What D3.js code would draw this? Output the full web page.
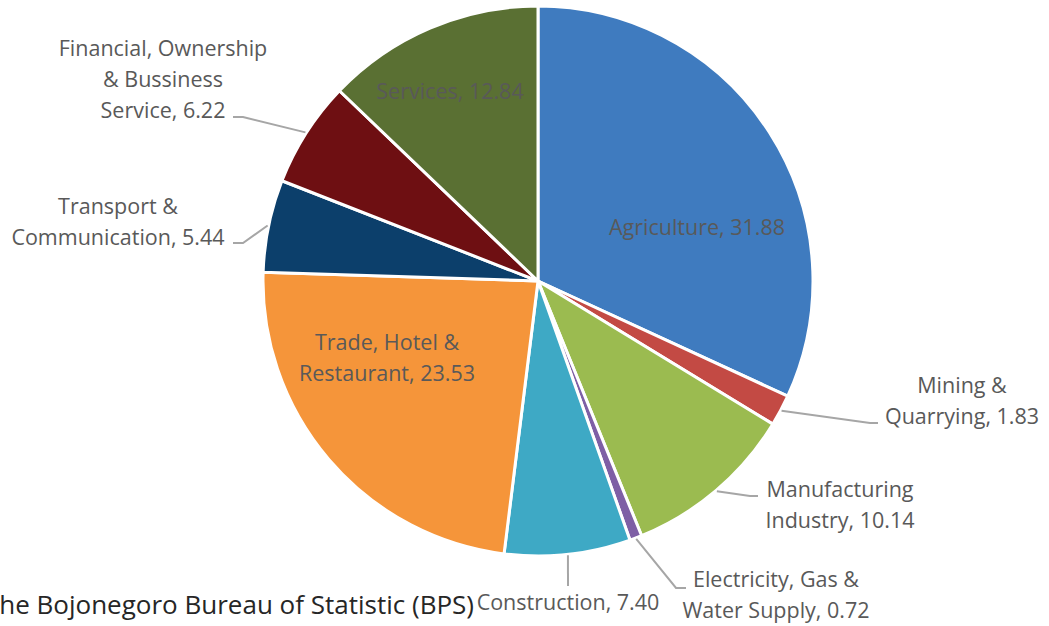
<!DOCTYPE html>
<html>
<head>
<meta charset="utf-8">
<script src="https://cdn.jsdelivr.net/npm/d3@7"></script>
<style>
  html, body { margin: 0; padding: 0; background: #fff; overflow: hidden; }
  text { font-family: "Open Sans", "Noto Sans", sans-serif; }
</style>
</head>
<body>
<script>
let width = 1049;
let height = 626;

// data (share of GRDP, %)
let sectors = ['Agriculture', 'Mining & Quarrying', 'Manufacturing Industry',
  'Electricity, Gas & Water Supply', 'Construction', 'Trade, Hotel & Restaurant',
  'Transport & Communication', 'Financial, Ownership & Bussiness Service', 'Services'];
let shares = [31.88, 1.83, 10.14, 0.72, 7.40, 23.53, 5.44, 6.22, 12.84];
let sliceColors = ['#3f7bbf', '#c34a44', '#9bbb50', '#7e5fa5', '#3ea9c5',
  '#f5953a', '#0c3f6b', '#6e0f12', '#5a7033'];

// how each label is broken into lines
let labelLines = [
  ['Agriculture, 31.88'],
  ['Mining &', 'Quarrying, 1.83'],
  ['Manufacturing', 'Industry, 10.14'],
  ['Electricity, Gas &', 'Water Supply, 0.72'],
  ['Construction, 7.40'],
  ['Trade, Hotel &', 'Restaurant, 23.53'],
  ['Transport &', 'Communication, 5.44'],
  ['Financial, Ownership', '& Bussiness', 'Service, 6.22'],
  ['Services, 12.84']
];

let cx = 538, cy = 281, radius = 275;
let lineHeight = 31;

// label box centres and the leader elbow (null = label sits inside the slice)
let labelLayout = [
  { x: 697, y: 227, elbow: null },
  { x: 962, y: 401, elbow: [[870, 423], [878, 423]] },
  { x: 840, y: 505, elbow: [[750, 496], [758, 496]] },
  { x: 776, y: 595, elbow: [[676, 588], [686, 588]] },
  { x: 568, y: 602, elbow: [[568, 586]] },
  { x: 387, y: 358, elbow: null },
  { x: 118, y: 222, elbow: [[243, 243], [233, 243]] },
  { x: 163, y: 79, elbow: [[243, 117], [233, 117]] },
  { x: 450, y: 91, elbow: null }
];

let svg = d3.select('body').append('svg')
  .attr('width', width)
  .attr('height', height);

let pie = d3.pie().sort(null).value(function(d) { return d; });
let arcs = pie(shares);

let arc = d3.arc().innerRadius(0).outerRadius(radius);

let g = svg.append('g')
  .attr('transform', 'translate(' + cx + ',' + cy + ')');

g.selectAll('path')
  .data(arcs)
  .enter()
  .append('path')
  .attr('d', arc)
  .attr('fill', function(d, i) { return sliceColors[i]; })
  .attr('stroke', '#fff')
  .attr('stroke-width', 3)
  .attr('stroke-linejoin', 'round');

// leader lines, from the slice edge at its middle angle
arcs.forEach(function(d, i) {
  let lay = labelLayout[i];
  if (!lay.elbow) return;
  let mid = (d.startAngle + d.endAngle) / 2;
  let pts = [[cx + Math.sin(mid) * (radius + 1), cy - Math.cos(mid) * (radius + 1)]]
    .concat(lay.elbow);
  svg.append('path')
    .attr('d', d3.line()(pts))
    .attr('fill', 'none')
    .attr('stroke', '#a6a6a6')
    .attr('stroke-width', 2);
});

// data labels
arcs.forEach(function(d, i) {
  let lay = labelLayout[i];
  let lines = labelLines[i];
  let top = lay.y - (lines.length - 1) * lineHeight / 2;
  let t = svg.append('text')
    .attr('text-anchor', 'middle')
    .attr('font-size', 21.5)
    .attr('fill', '#595959');
  lines.forEach(function(s, j) {
    t.append('tspan')
      .attr('x', lay.x)
      .attr('y', top + j * lineHeight)
      .attr('dy', '0.35em')
      .text(s);
  });
});

// source note, cut off at the left edge as in the original
svg.append('text')
  .attr('x', 474)
  .attr('y', 614)
  .attr('text-anchor', 'end')
  .attr('font-size', 26)
  .attr('fill', '#262626')
  .text('the Bojonegoro Bureau of Statistic (BPS)');
</script>
</body>
</html>
